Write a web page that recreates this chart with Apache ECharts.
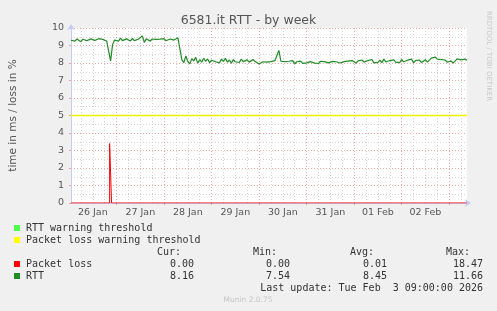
<!DOCTYPE html>
<html><head><meta charset="utf-8">
<script src="https://cdn.jsdelivr.net/npm/echarts@6/dist/echarts.min.js"></script>
<style>html,body{margin:0;padding:0;background:#f0f0f0;}#c{width:497px;height:311px;}</style>
</head><body><div id="c"></div>
<script>
const chartTitle = '6581.it RTT - by week';
const yTitle = 'time in ms / loss in %';
const sideText = 'RRDTOOL / TOBI OETIKER';
const dayLabels = ['26 Jan','27 Jan','28 Jan','29 Jan','30 Jan','31 Jan','01 Feb','02 Feb'];
const firstHour = 1; // first sample: hours after 26 Jan 00:00
const yTicks = [0,1,2,3,4,5,6,7,8,9,10];

const rtt = [
  9.30, 9.35, 9.25, 9.37, 9.31, 9.22, 9.36, 9.41, 9.27, 9.25, 9.38, 9.46, 9.29, 9.24, 9.39, 9.28, 9.35, 9.26,
  9.26, 9.30, 8.12, 9.05, 9.31,
  9.37, 9.25, 9.42, 9.28, 9.24, 9.38, 9.30, 9.26, 9.40, 9.28, 9.23, 9.36, 9.27, 9.55, 9.18, 9.38, 9.29, 9.25, 9.37, 9.28, 9.35, 9.24, 9.36, 9.28, 9.39, 9.27, 9.34, 9.37, 9.42, 9.31, 9.40, 9.44,
  9.40,
  8.18, 8.02, 8.40, 8.08, 7.95, 8.25, 8.12, 8.32, 7.99, 8.19, 8.05, 8.27, 8.10, 8.23, 8.02, 8.16, 8.25, 8.07, 8.18, 8.01,
  8.22, 8.09, 8.27, 8.05, 8.17, 7.99, 8.20, 8.07, 8.15, 8.03, 8.22, 8.08, 8.01, 8.18, 8.05, 8.14, 8.20,
  8.08, 8.04, 7.94, 7.90, 8.07, 8.14, 8.05, 8.16, 8.08, 8.03, 8.14, 8.15,
  8.72,
  8.10, 7.99, 8.08, 7.97, 8.10, 8.01, 8.14, 7.95, 8.07, 8.00,
  8.11, 7.98, 8.09, 8.01, 7.94, 8.08, 8.12, 7.99, 8.07, 7.97,
  8.10, 8.00, 8.08, 8.14, 8.01, 7.96, 8.09, 7.99, 8.07, 8.12,
  8.00, 7.92, 8.08, 7.98, 8.11, 8.01, 8.14, 8.03, 7.99, 8.12,
  8.03, 8.17, 8.05, 8.00, 8.14, 8.03, 8.20, 8.01, 8.12, 8.04,
  8.16, 8.02, 8.22, 8.06, 7.99, 8.14, 8.03, 8.18, 8.05, 8.15,
  8.02, 8.20, 8.07, 8.03, 8.16, 8.06, 8.22, 8.01, 8.14, 8.05,
  8.17, 8.03, 8.13, 8.19, 8.05, 8.14,
  8.28, 8.18, 8.34, 8.22, 8.32, 8.20, 8.30, 8.16,
  8.04, 8.01, 8.12, 7.99, 8.08,
  8.24, 8.32, 8.18, 8.29, 8.22, 8.16
];

const loss = [
  0,0,0,0,0,0,0,0,0,0, 0,0,0,0,0,0,0,0,0,0, 3.4,0,0,0,0,0,0,0,0,0,
  0,0,0,0,0,0,0,0,0,0, 0,0,0,0,0,0,0,0,0,0, 0,0,0,0,0,0,0,0,0,0,
  0,0,0,0,0,0,0,0,0,0, 0,0,0,0,0,0,0,0,0,0, 0,0,0,0,0,0,0,0,0,0,
  0,0,0,0,0,0,0,0,0,0, 0,0,0,0,0,0,0,0,0,0, 0,0,0,0,0,0,0,0,0,0,
  0,0,0,0,0,0,0,0,0,0, 0,0,0,0,0,0,0,0,0,0, 0,0,0,0,0,0,0,0,0,0,
  0,0,0,0,0,0,0,0,0,0, 0,0,0,0,0,0,0,0,0,0, 0,0,0,0,0,0,0,0,0,0,
  0,0,0,0,0,0,0,0,0,0, 0,0,0,0,0,0,0,0,0,0, 0
];

const lossWarning = 5;

const legendNames = ['RTT warning threshold', 'Packet loss warning threshold', 'Packet loss', 'RTT'];
const legendColors = ['#4cff4c', '#ffff00', '#ff0000', '#1f8c24'];
const statHeaders = ['Cur:', 'Min:', 'Avg:', 'Max:'];
const lossStats = ['0.00', '0.00', '0.01', '18.47'];
const rttStats = ['8.16', '7.54', '8.45', '11.66'];
const lastUpdate = 'Last update: Tue Feb  3 09:00:00 2026';
const footer = 'Munin 2.0.75';

const hours = rtt.map((_, i) => String(firstHour + i));

const MONO = '10px "DejaVu Sans Mono"';
const TXT = '#333';
const graphics = [];
const rowY = [228, 240, 264, 276];
legendNames.forEach((n, k) => {
  graphics.push({ type: 'rect', shape: { x: 14, y: rowY[k] - 3, width: 6, height: 6 }, style: { fill: legendColors[k] } });
  graphics.push({ type: 'text', x: 26, y: rowY[k], style: { text: n, font: MONO, fill: TXT, verticalAlign: 'middle', align: 'left' } });
});
const headX = [181, 277, 374, 470];
const valX = [194, 290, 387, 483];
statHeaders.forEach((h, k) => {
  graphics.push({ type: 'text', x: headX[k], y: 252, style: { text: h, font: MONO, fill: TXT, verticalAlign: 'middle', align: 'right' } });
  graphics.push({ type: 'text', x: valX[k], y: 264, style: { text: lossStats[k], font: MONO, fill: TXT, verticalAlign: 'middle', align: 'right' } });
  graphics.push({ type: 'text', x: valX[k], y: 276, style: { text: rttStats[k], font: MONO, fill: TXT, verticalAlign: 'middle', align: 'right' } });
});
graphics.push({ type: 'text', x: 483, y: 288, style: { text: lastUpdate, font: MONO, fill: TXT, verticalAlign: 'middle', align: 'right' } });
graphics.push({ type: 'text', x: 248, y: 300, style: { text: footer, font: '7.5px "DejaVu Sans"', fill: '#c4c4c4', verticalAlign: 'middle', align: 'center' } });
graphics.push({ type: 'text', x: 489, y: 56, rotation: -Math.PI / 2, style: { text: sideText, font: '7px "DejaVu Sans"', fill: '#c8c8c8', verticalAlign: 'middle', align: 'center' } });

const MAJOR = 'rgba(230,110,110,0.6)';
const MINOR = '#d4d4d4';
const AXIS = '#c4ccf2';
const YELLOW = '#f0f000';

const chart = echarts.init(document.getElementById('c'), null, { renderer: 'canvas' });
chart.setOption({
  animation: false,
  backgroundColor: '#f0f0f0',
  title: {
    text: chartTitle, left: 'center', top: 9,
    textStyle: { fontSize: 12.5, fontWeight: 'normal', color: '#555', fontFamily: '"DejaVu Sans"' }
  },
  grid: { left: 67, top: 28, width: 400, height: 175, show: true, backgroundColor: '#ffffff', borderWidth: 0, containLabel: false },
  xAxis: [
    {
      type: 'category', data: hours, boundaryGap: false, position: 'bottom',
      axisLine: { show: true, onZero: false, lineStyle: { color: AXIS, width: 1 }, symbol: ['none', 'arrow'], symbolSize: [6, 6], symbolOffset: [0, 4] },
      axisTick: { show: true, length: 2, interval: (i, v) => Number(v) % 24 === 0, lineStyle: { color: MAJOR } },
      axisLabel: {
        interval: (i, v) => Number(v) % 24 === 12,
        formatter: (v) => { const h = Number(v); return h % 24 === 12 ? dayLabels[(h - 12) / 24] : ''; },
        color: '#555', fontSize: 9.5, fontFamily: '"DejaVu Sans"', margin: 5
      },
      splitLine: { show: true, interval: (i, v) => Number(v) % 24 === 0, lineStyle: { color: MAJOR, type: [1, 2], width: 1 } }
    },
    {
      type: 'category', data: hours, boundaryGap: false, position: 'bottom',
      axisLine: { show: false }, axisTick: { show: false }, axisLabel: { show: false },
      splitLine: { show: true, interval: (i, v) => Number(v) % 6 === 0 && Number(v) % 24 !== 0, lineStyle: { color: MINOR, type: [1, 2], width: 1 } }
    },
    {
      type: 'value', min: 0, max: 1, show: false, position: 'bottom'
    }
  ],
  yAxis: [
    {
      type: 'value', min: yTicks[0], max: yTicks[yTicks.length - 1], interval: 1,
      name: yTitle, nameLocation: 'middle', nameGap: 52, nameRotate: 90,
      nameTextStyle: { fontSize: 10.5, color: '#555', fontFamily: '"DejaVu Sans"' },
      axisLine: { show: true, lineStyle: { color: AXIS, width: 1 }, symbol: ['none', 'arrow'], symbolSize: [6, 6], symbolOffset: [0, 4] },
      axisTick: { show: true, length: 2, lineStyle: { color: MAJOR } },
      axisLabel: { color: '#555', fontSize: 9.5, fontFamily: '"DejaVu Sans"', margin: 7 },
      splitLine: { show: true, lineStyle: { color: MAJOR, type: [1, 2], width: 1 } },
      minorTick: { show: false, splitNumber: 2 },
      minorSplitLine: { show: true, lineStyle: { color: MINOR, type: [1, 2], width: 1 } }
    }
  ],
  graphic: graphics,
  series: [
    {
      name: 'Packet loss warning threshold', type: 'line', xAxisIndex: 2, yAxisIndex: 0,
      data: [[0, lossWarning], [1, lossWarning]], symbol: 'none', z: 3, clip: false,
      lineStyle: { color: YELLOW, width: 1.6, opacity: 1 }, itemStyle: { color: YELLOW }
    },
    {
      name: 'Packet loss', type: 'line', data: loss, step: 'middle', symbol: 'none', z: 4,
      xAxisIndex: 0, yAxisIndex: 0,
      lineStyle: { color: '#ff0000', width: 1 }, itemStyle: { color: '#ff0000' }
    },
    {
      name: 'RTT', type: 'line', data: rtt, symbol: 'none', z: 5,
      xAxisIndex: 0, yAxisIndex: 0,
      lineStyle: { color: '#1f8c24', width: 1.2 }, itemStyle: { color: '#1f8c24' }
    }
  ]
});
</script>
</body></html>
